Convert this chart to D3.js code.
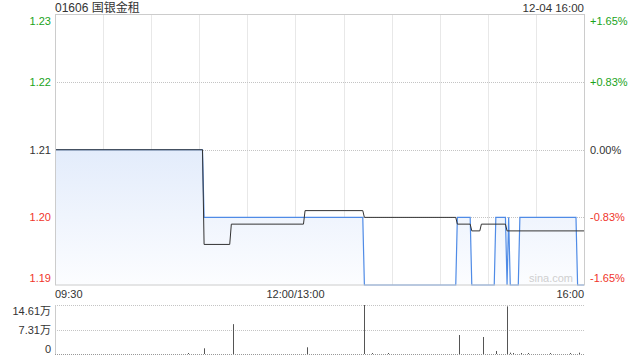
<!DOCTYPE html>
<html>
<head>
<meta charset="utf-8">
<script src="https://cdn.jsdelivr.net/npm/d3@7"></script>
<style>
  body { margin: 0; background: #fff; }
  svg { display: block; font-family: "Liberation Sans", Arial, "Noto Sans CJK SC", sans-serif; }
</style>
</head>
<body>
<svg id="chart" width="640" height="360"></svg>
<script>
// minute data
const title = '01606 国银金租';
const stamp = '12-04 16:00';
const prevClose = 1.21;
const priceTicks = [1.19, 1.20, 1.21, 1.22, 1.23];
const pctTicks = ['-1.65%', '-0.83%', '0.00%', '+0.83%', '+1.65%'];
const timeLabels = ['09:30', '12:00/13:00', '16:00'];

const priceTimes = ['09:30', '11:02', '11:03', '13:42', '13:43', '14:40', '14:41', '14:49', '14:50',
  '15:04', '15:05', '15:11', '15:12', '15:13', '15:14', '15:19', '15:20', '15:55', '15:56', '16:00'];
const priceValues = [1.21, 1.21, 1.20, 1.20, 1.19, 1.19, 1.20, 1.20, 1.19,
  1.19, 1.20, 1.20, 1.19, 1.20, 1.19, 1.19, 1.20, 1.20, 1.19, 1.19];

const avgTimes = ['09:30', '11:02', '11:03', '11:19', '11:20', '13:05', '13:06', '13:42', '13:43',
  '14:40', '14:41', '14:49', '14:50', '14:55', '14:56', '15:11', '15:12', '16:00'];
const avgValues = [1.21, 1.21, 1.196, 1.196, 1.199, 1.199, 1.201, 1.201, 1.200,
  1.200, 1.199, 1.199, 1.198, 1.198, 1.199, 1.199, 1.198, 1.198];

const volTimes = ['10:53', '11:03', '11:21', '13:07', '13:43', '13:48', '13:58', '14:42', '14:57',
  '15:05', '15:12', '15:14', '15:16', '15:21', '15:25', '15:39', '15:51', '15:57'];
const volValues = [3000, 17000, 89000, 20000, 146100, 3000, 3000, 56600, 50700,
  9000, 142000, 4000, 3000, 3000, 3000, 3000, 3000, 4000];
const volTicks = [0, 73050, 146100];
const volTickLabels = ['0', '7.31万', '14.61万'];

// trading minutes: 09:30-12:00 then 13:00-16:00
function minuteIndex(t) {
  const [h, m] = t.split(':').map(Number);
  const mins = h * 60 + m;
  return mins <= 720 ? mins - 570 : mins - 780 + 150;
}

const svg = d3.select('#chart');
const plotLeft = 55, plotRight = 584, plotTop = 14.5, plotBottom = 285;
const vTop = 305, vBottom = 354;

const x = d3.scaleLinear().domain([0, 330]).range([plotLeft, plotRight]);
const y = d3.scaleLinear().domain([1.19, 1.23]).range([plotBottom, plotTop]);
const yv = d3.scaleLinear().domain([0, 146100]).range([vBottom, vTop]);

const green = '#1aa31a', red = '#f0352b', dark = '#333';
function tickColor(v) {
  if (Math.abs(v - prevClose) < 1e-9) return dark;
  return v > prevClose ? green : red;
}

// gradient for price area
const grad = svg.append('defs').append('linearGradient')
    .attr('id', 'fillGrad')
    .attr('gradientUnits', 'userSpaceOnUse')
    .attr('x1', 0).attr('y1', y(1.21))
    .attr('x2', 0).attr('y2', plotBottom);
grad.append('stop').attr('offset', 0).attr('stop-color', '#e3ecfb');
grad.append('stop').attr('offset', 1).attr('stop-color', '#fcfdff');

// vertical grid every 30 min
const g = svg.append('g');
g.selectAll('line.vgrid')
    .data(d3.range(30, 330, 30))
    .join('line')
    .attr('class', 'vgrid')
    .attr('x1', d => Math.round(x(d)) + 0.5)
    .attr('x2', d => Math.round(x(d)) + 0.5)
    .attr('y1', plotTop).attr('y2', plotBottom)
    .attr('stroke', '#d0d0d0')
    .attr('stroke-dasharray', '1,1');

g.selectAll('line.hgrid')
    .data(priceTicks.slice(1, -1))
    .join('line')
    .attr('class', 'hgrid')
    .attr('x1', plotLeft).attr('x2', plotRight)
    .attr('y1', d => Math.round(y(d)) + 0.5)
    .attr('y2', d => Math.round(y(d)) + 0.5)
    .attr('stroke', '#c4c4c4')
    .attr('stroke-dasharray', '1,1');

const pricePts = priceTimes.map((t, i) => [minuteIndex(t), priceValues[i]]);
const avgPts = avgTimes.map((t, i) => [minuteIndex(t), avgValues[i]]);

svg.append('path')
    .datum(pricePts)
    .attr('fill', 'url(#fillGrad)')
    .attr('d', d3.area().x(d => x(d[0])).y0(plotBottom).y1(d => y(d[1])));

// watermark
svg.append('text')
    .attr('x', 573).attr('y', 278)
    .attr('text-anchor', 'end')
    .attr('dominant-baseline', 'central')
    .attr('font-size', 11)
    .attr('fill', '#cfcfcf')
    .text('sina.com');

svg.append('path')
    .datum(pricePts)
    .attr('fill', 'none')
    .attr('stroke', '#4f8be6')
    .attr('stroke-width', 1.2)
    .attr('d', d3.line().x(d => x(d[0])).y(d => y(d[1])));

svg.append('path')
    .datum(avgPts)
    .attr('fill', 'none')
    .attr('stroke', dark)
    .attr('stroke-width', 1)
    .attr('d', d3.line().x(d => x(d[0])).y(d => y(d[1])));

// frame
svg.append('rect')
    .attr('x', plotLeft + 0.5).attr('y', plotTop)
    .attr('width', plotRight - plotLeft).attr('height', plotBottom - plotTop)
    .attr('fill', 'none')
    .attr('stroke', '#cccccc');

// price labels
function labelY(i, n, pos) {
  if (i === 0) return pos - 7;
  if (i === n - 1) return pos + 6;
  return pos;
}
svg.selectAll('text.pl')
    .data(priceTicks)
    .join('text')
    .attr('class', 'pl')
    .attr('x', 51)
    .attr('y', (d, i) => labelY(i, priceTicks.length, y(d)))
    .attr('text-anchor', 'end')
    .attr('dominant-baseline', 'central')
    .attr('font-size', 11)
    .attr('fill', d => tickColor(d))
    .text(d => d.toFixed(2));

svg.selectAll('text.pr')
    .data(priceTicks)
    .join('text')
    .attr('class', 'pr')
    .attr('x', 590)
    .attr('y', (d, i) => labelY(i, priceTicks.length, y(d)))
    .attr('dominant-baseline', 'central')
    .attr('font-size', 11)
    .attr('fill', d => tickColor(d))
    .text((d, i) => pctTicks[i]);

// time labels
const timeAnchor = ['start', 'middle', 'end'];
const timePos = [0, 150, 330];
svg.selectAll('text.tl')
    .data(timeLabels)
    .join('text')
    .attr('class', 'tl')
    .attr('x', (d, i) => x(timePos[i]))
    .attr('y', 293.5)
    .attr('text-anchor', (d, i) => timeAnchor[i])
    .attr('dominant-baseline', 'central')
    .attr('font-size', 11)
    .attr('fill', dark)
    .text(d => d);

svg.append('text')
    .attr('x', plotLeft).attr('y', 7.5)
    .attr('dominant-baseline', 'central')
    .attr('font-size', 12)
    .attr('fill', dark)
    .text(title);

svg.append('text')
    .attr('x', plotRight).attr('y', 7.5)
    .attr('text-anchor', 'end')
    .attr('dominant-baseline', 'central')
    .attr('font-size', 11.5)
    .attr('fill', dark)
    .text(stamp);

// volume panel
svg.selectAll('line.vg')
    .data(volTicks)
    .join('line')
    .attr('class', 'vg')
    .attr('x1', plotLeft).attr('x2', plotRight)
    .attr('y1', d => Math.round(yv(d)) + 0.5)
    .attr('y2', d => Math.round(yv(d)) + 0.5)
    .attr('stroke', d => d === 0 ? '#999' : '#c4c4c4')
    .attr('stroke-dasharray', '1,1');

svg.append('line')
    .attr('x1', plotLeft + 0.5).attr('x2', plotLeft + 0.5)
    .attr('y1', vTop).attr('y2', vBottom)
    .attr('stroke', '#cccccc');

svg.selectAll('line.bar')
    .data(volTimes.map((t, i) => [minuteIndex(t), volValues[i]]))
    .join('line')
    .attr('class', 'bar')
    .attr('x1', d => Math.round(x(d[0])) + 0.5)
    .attr('x2', d => Math.round(x(d[0])) + 0.5)
    .attr('y1', yv(0))
    .attr('y2', d => yv(d[1]))
    .attr('stroke', '#555');

const volLabelY = [348.5, 329.5, 311];
svg.selectAll('text.vl')
    .data(volTickLabels)
    .join('text')
    .attr('class', 'vl')
    .attr('x', 51)
    .attr('y', (d, i) => volLabelY[i])
    .attr('text-anchor', 'end')
    .attr('dominant-baseline', 'central')
    .attr('font-size', 11)
    .attr('fill', dark)
    .text(d => d);
</script>
</body>
</html>
